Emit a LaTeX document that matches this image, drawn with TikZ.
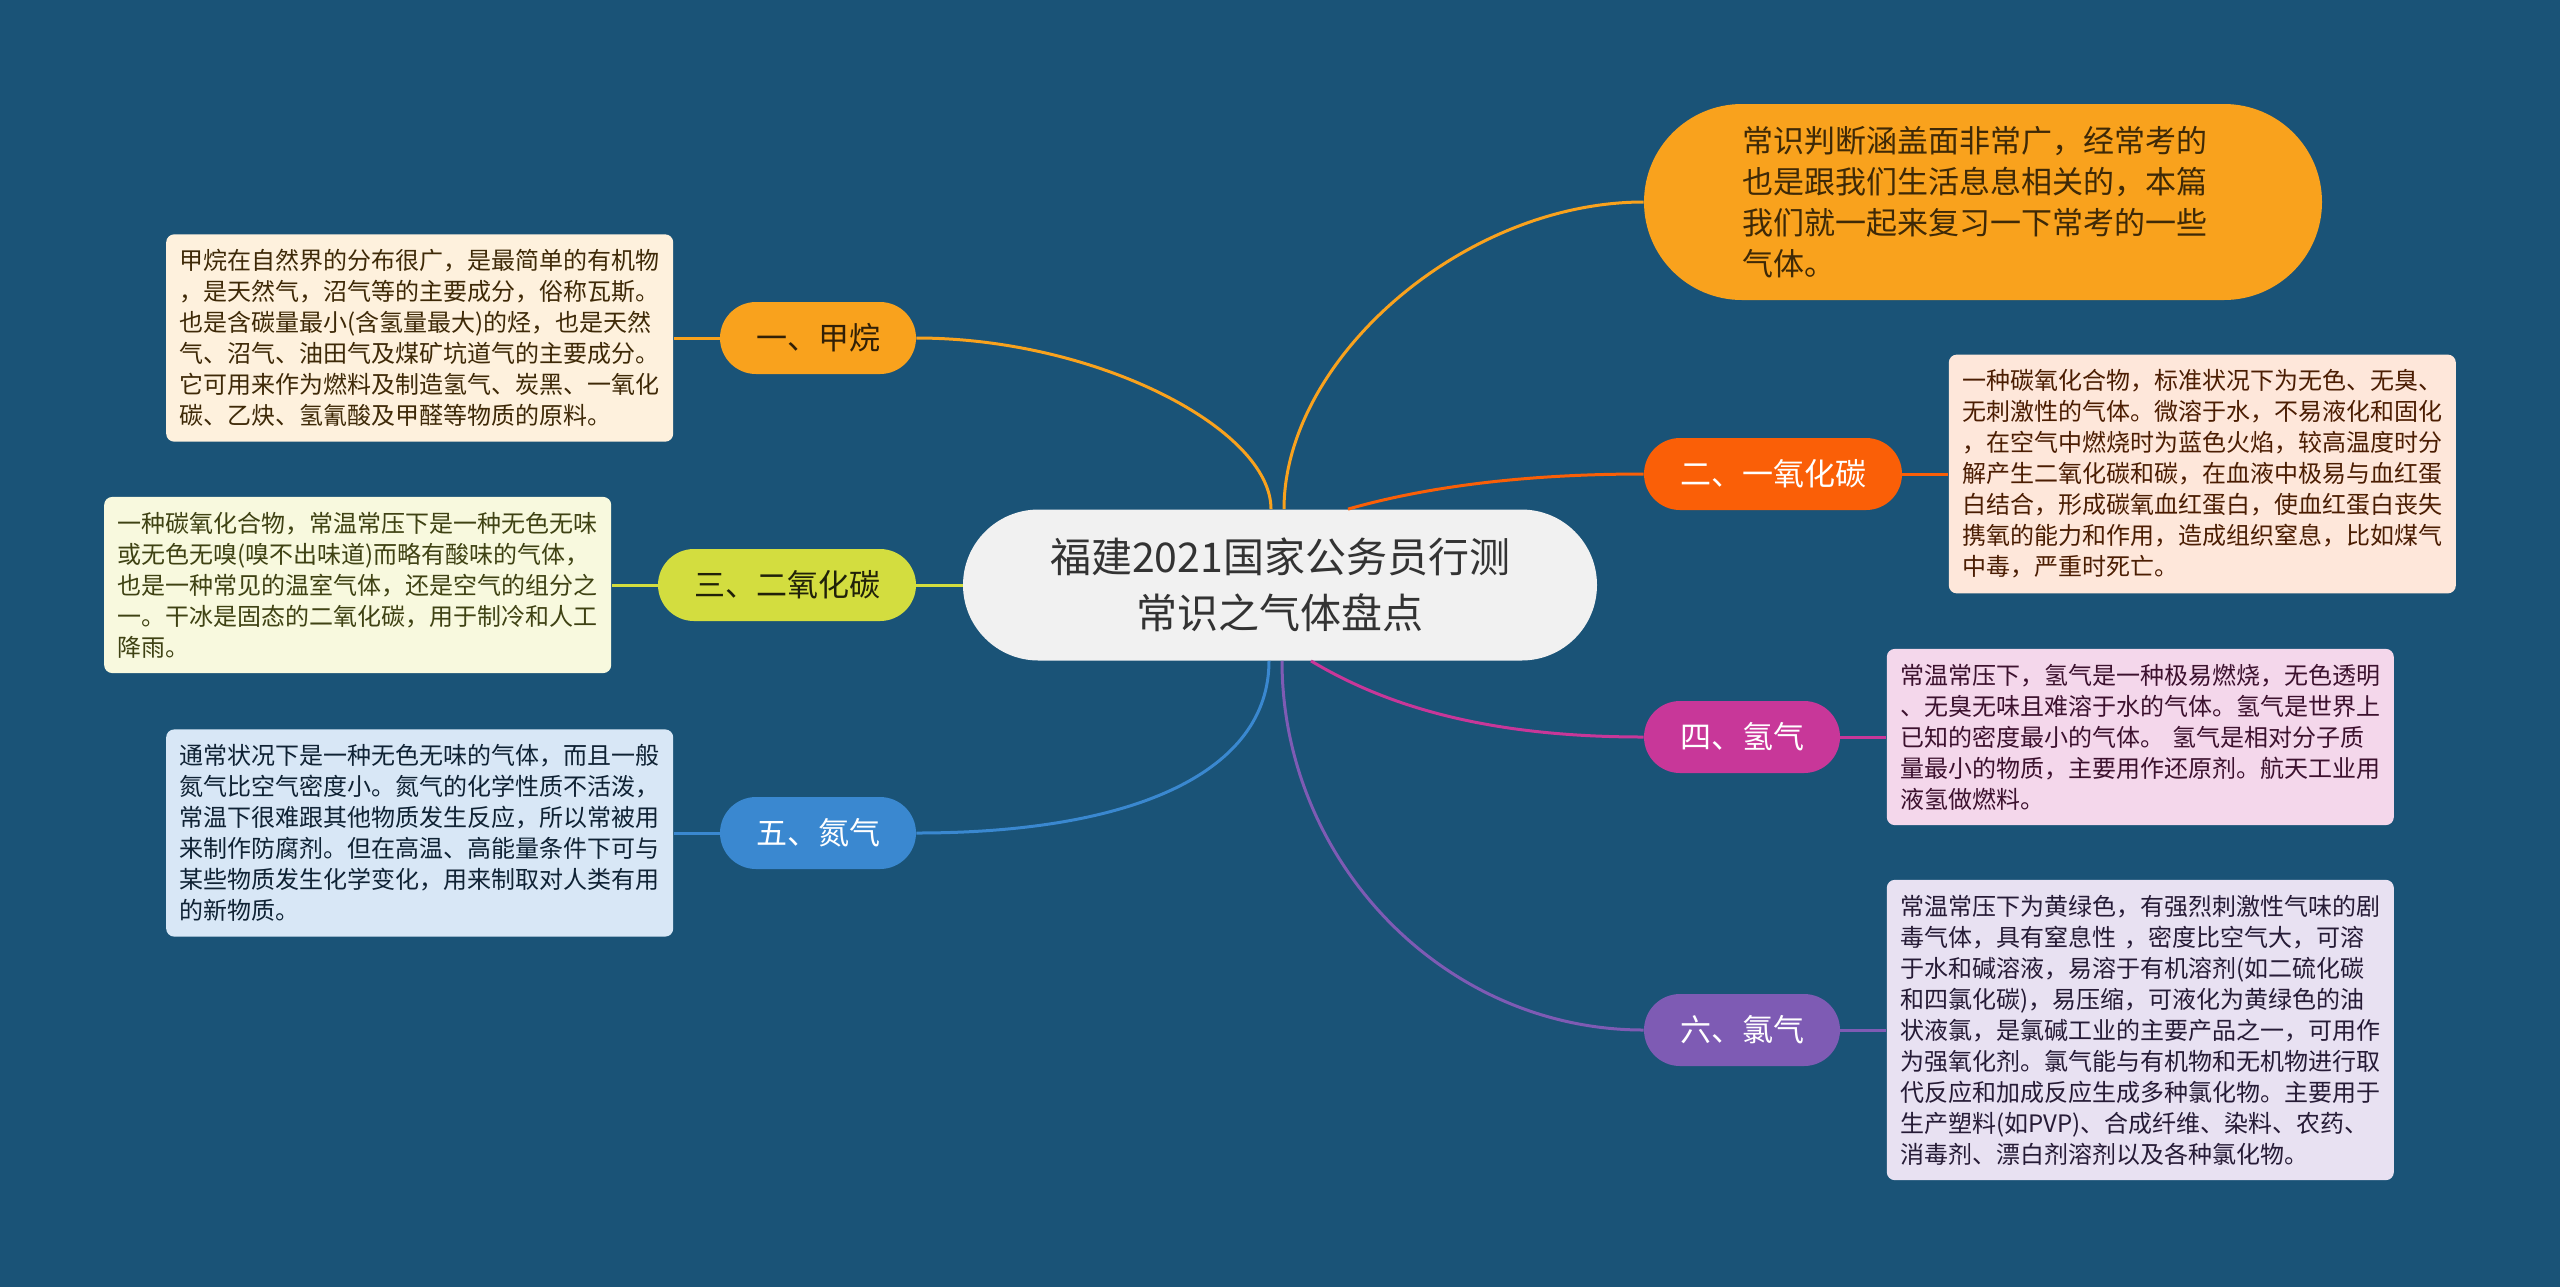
\documentclass[tikz,border=0pt]{standalone}
\usepackage{fontspec}
\setmainfont{Noto Sans CJK SC}
\usetikzlibrary{positioning}
\definecolor{bgc}{HTML}{1A5377}
\definecolor{rootc}{HTML}{F1F1F1}
\definecolor{roottx}{HTML}{333333}
\definecolor{c1}{HTML}{F9A21D}
\definecolor{c2}{HTML}{FA5F07}
\definecolor{c3}{HTML}{D3DD3F}
\definecolor{c4}{HTML}{C83799}
\definecolor{c5}{HTML}{3A88D0}
\definecolor{c6}{HTML}{7E5BB4}

\begin{document}
\begin{tikzpicture}[x=0.5pt,y=0.5pt,
  font=\fontsize{12pt}{15.5pt}\selectfont, node distance=23pt,
  topic/.style={rectangle,fill=rootc,text=roottx,rounded corners=37.75pt,minimum width=317pt,minimum height=75.5pt,inner sep=0pt,align=center,font=\fontsize{20.5pt}{27.8pt}\selectfont},
  intro/.style={rectangle,fill=c1,text=black!75!c1,rounded corners=49pt,minimum width=339pt,minimum height=98pt,inner sep=0pt,text width=240.5pt,align=left,font=\fontsize{15.5pt}{20.5pt}\selectfont},
  branch/.style={rectangle,rounded corners=18pt,minimum width=98pt,minimum height=36pt,inner sep=0pt,text=white,font=\fontsize{15.5pt}{18pt}\selectfont},
  note/.style={rectangle,rounded corners=4pt,text width=240pt,inner xsep=6.75pt,inner ysep=7.5pt,align=left},
  conn/.style={line width=1.5pt}]
\path[use as bounding box,fill=bgc] (0,0) rectangle (2560,-1287);
\node[topic] (root) at (1280,-585) {福建2021国家公务员行测\\常识之气体盘点};
\node[intro] (intro) at (1983,-202) {常识判断涵盖面非常广，经常考的\\也是跟我们生活息息相关的，本篇\\我们就一起来复习一下常考的一些\\气体。};
\node[branch,fill=c1,text=black!80!c1] (b1) at (818,-338) {一、甲烷};
\node[branch,fill=c2,minimum width=129pt] (b2) at (1773,-474) {二、一氧化碳};
\node[branch,fill=c3,text=black!85!c3,minimum width=129pt] (b3) at (787,-585) {三、二氧化碳};
\node[branch,fill=c4] (b4) at (1742,-737) {四、氢气};
\node[branch,fill=c5] (b5) at (818,-833) {五、氮气};
\node[branch,fill=c6] (b6) at (1742,-1030) {六、氯气};
\node[note,fill=c1!15!white,text=black!75!c1,left=of b1] (t1) {甲烷在自然界的分布很广，是最简单的有机物\\
，是天然气，沼气等的主要成分，俗称瓦斯。\\
也是含碳量最小(含氢量最大)的烃，也是天然\\
气、沼气、油田气及煤矿坑道气的主要成分。\\
它可用来作为燃料及制造氢气、炭黑、一氧化\\
碳、乙炔、氢氰酸及甲醛等物质的原料。};
\node[note,fill=c2!15!white,text=black!70!c2,right=of b2] (t2) {一种碳氧化合物，标准状况下为无色、无臭、\\
无刺激性的气体。微溶于水，不易液化和固化\\
，在空气中燃烧时为蓝色火焰，较高温度时分\\
解产生二氧化碳和碳，在血液中极易与血红蛋\\
白结合，形成碳氧血红蛋白，使血红蛋白丧失\\
携氧的能力和作用，造成组织窒息，比如煤气\\
中毒，严重时死亡。};
\node[note,fill=c3!17!white,text=black!70!c3,left=of b3] (t3) {一种碳氧化合物，常温常压下是一种无色无味\\
或无色无嗅(嗅不出味道)而略有酸味的气体，\\
也是一种常见的温室气体，还是空气的组分之\\
一。干冰是固态的二氧化碳，用于制冷和人工\\
降雨。};
\node[note,fill=c4!20!white,text=black!70!c4,right=of b4] (t4) {常温常压下，氢气是一种极易燃烧，无色透明\\
、无臭无味且难溶于水的气体。氢气是世界上\\
已知的密度最小的气体。 氢气是相对分子质\\
量最小的物质，主要用作还原剂。航天工业用\\
液氢做燃料。};
\node[note,fill=c5!20!white,text=black!75!c5,left=of b5] (t5) {通常状况下是一种无色无味的气体，而且一般\\
氮气比空气密度小。氮气的化学性质不活泼，\\
常温下很难跟其他物质发生反应，所以常被用\\
来制作防腐剂。但在高温、高能量条件下可与\\
某些物质发生化学变化，用来制取对人类有用\\
的新物质。};
\node[note,fill=c6!18!white,text=black!70!c6,right=of b6] (t6) {常温常压下为黄绿色，有强烈刺激性气味的剧\\
毒气体，具有窒息性 ，密度比空气大，可溶\\
于水和碱溶液，易溶于有机溶剂(如二硫化碳\\
和四氯化碳)，易压缩，可液化为黄绿色的油\\
状液氯，是氯碱工业的主要产品之一，可用作\\
为强氧化剂。氯气能与有机物和无机物进行取\\
代反应和加成反应生成多种氯化物。主要用于\\
生产塑料(如PVP)、合成纤维、染料、农药、\\
消毒剂、漂白剂溶剂以及各种氯化物。};
\draw[conn,c1] ([xshift=-4.5pt]root.north) .. controls +(0,80) and +(180,0) .. (b1.east);
\draw[conn,c1] ([xshift=2pt]root.north) .. controls +(0,150) and +(-180,0) .. (intro.west);
\draw[conn,c2] ([xshift=34pt]root.north) .. controls +(70,20) and +(-130,0) .. (b2.west);
\draw[conn,c3] (root.west) -- (b3.east);
\draw[conn,c4] ([xshift=15.5pt]root.south) .. controls +(80,-48) and +(-150,0) .. (b4.west);
\draw[conn,c5] ([xshift=-5.5pt]root.south) .. controls +(0,-110) and +(220,0) .. (b5.east);
\draw[conn,c6] ([xshift=1pt]root.south) .. controls +(0,-200) and +(-200,0) .. (b6.west);
\draw[conn,c1] (b1) -- (t1);
\draw[conn,c2] (b2) -- (t2);
\draw[conn,c3] (b3) -- (t3);
\draw[conn,c4] (b4) -- (t4);
\draw[conn,c5] (b5) -- (t5);
\draw[conn,c6] (b6) -- (t6);
\end{tikzpicture}
\end{document}
